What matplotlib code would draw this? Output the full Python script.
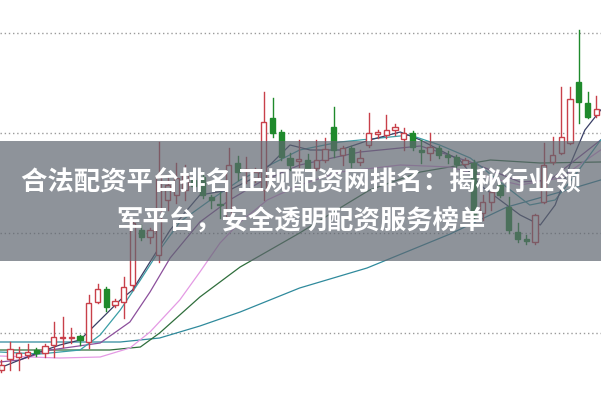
import numpy as np
import matplotlib
matplotlib.use("Agg")
import matplotlib.pyplot as plt
from matplotlib.patches import Rectangle

plt.rcParams['font.family'] = ['Noto Sans CJK SC', 'DejaVu Sans']

# candle data (open, high, low, close), one per trading day
opens = [63, 74, 76, 78, 83, 80, 88, 95, 95, 97, 91, 131, 144, 128, 131, 148, 203, 196, 178, 233,
         238, 243, 253, 256, 236, 229, 216, 270, 262, 255, 243, 315, 301, 275, 272, 273, 265, 273, 306, 278,
         285, 271, 288, 299, 298, 303, 294, 300, 283, 280, 285, 278, 276, 269, 270, 220, 231, 248, 226, 201,
         194, 191, 231, 271, 280, 290, 351, 330, 318]
highs = [73, 91, 86, 89, 85, 89, 111, 116, 105, 98, 138, 149, 146, 134, 156, 212, 208, 205, 291, 258,
         270, 268, 257, 261, 238, 241, 285, 277, 276, 265, 341, 335, 303, 280, 293, 279, 293, 295, 326, 287,
         287, 283, 320, 303, 318, 309, 305, 302, 293, 300, 287, 282, 278, 275, 273, 238, 250, 251, 236, 210,
         198, 219, 290, 296, 346, 346, 403, 341, 337]
lows = [61, 63, 63, 75, 77, 76, 76, 86, 90, 88, 85, 130, 122, 126, 115, 143, 193, 190, 171, 223,
        230, 233, 243, 235, 225, 215, 213, 253, 250, 251, 233, 296, 273, 263, 266, 263, 263, 271, 276, 268,
        266, 268, 286, 295, 295, 298, 283, 283, 270, 273, 275, 270, 266, 267, 215, 213, 223, 236, 200, 191,
        189, 189, 230, 269, 279, 289, 310, 315, 316]
closes = [68, 84, 80, 81, 80, 87, 96, 95.5, 95.5, 93, 130, 144, 126, 132, 146, 210, 196, 203, 258, 248,
          255, 258, 247, 238, 233, 228, 268, 261, 264, 261, 311, 300, 276, 268, 274, 265, 273, 284, 283, 285,
          271, 275, 300, 301, 303, 306, 300, 286, 281, 286, 278, 276, 269, 273, 216, 231, 241, 238, 203, 194,
          192, 218, 268, 278, 296, 334, 331, 316, 324]

# moving average lines (day index, value)
ma5_x = [-0.2, 2.1, 4.4, 6.7, 9.0, 11.3, 13.6, 15.0, 17.0, 19.3, 22.7, 26.1, 28.4, 30.7, 33.0, 35.3,
         38.7, 42.1, 45.6, 47.9, 50.1, 52.4, 54.7, 57.0, 59.3, 61.6, 63.3, 65.0, 66.7, 68.5]
ma5_y = [65, 73, 81, 88, 93, 113, 133, 143, 171, 203, 238, 243, 253, 268, 288, 283,
         283, 293, 301, 293, 283, 273, 248, 233, 218, 208, 228, 268, 303, 323]
ma10_x = [-0.2, 4.4, 9.0, 11.3, 13.6, 15.9, 18.1, 20.4, 23.9, 27.3, 30.7, 34.1, 38.7, 43.3, 46.7,
          50.1, 53.6, 57.0, 60.4, 63.3, 65.6, 68.5]
ma10_y = [81, 79, 83, 98, 123, 153, 183, 211, 233, 253, 268, 283, 291, 295, 298,
          288, 275, 251, 228, 233, 258, 293]
ma20_x = [-0.2, 2.1, 5.6, 11.3, 14.7, 17.0, 19.3, 22.7, 26.1, 29.6, 34.1, 41.0, 47.9, 53.6, 59.3, 62.7, 68.5]
ma20_y = [71, 73, 83, 90, 111, 141, 175, 211, 233, 251, 268, 281, 287, 271, 251, 253, 293]
ma30_x = [-0.2, 6.7, 11.3, 14.7, 17.0, 20.4, 22.7, 25.0, 27.3, 30.4, 34.1, 38.7, 45.6, 51.3, 55.9,
          59.3, 63.9, 68.5]
ma30_y = [77, 75, 76, 85, 101, 133, 161, 190, 211, 233, 248, 261, 268, 266, 255, 248, 255, 283]
ma60_x = [-0.2, 12.4, 15.9, 18.1, 22.7, 27.3, 34.1, 38.7, 42.1, 47.9, 55.9, 61.6, 68.5]
ma60_y = [83, 83, 86, 100, 136, 166, 200, 225, 243, 261, 273, 270, 271]
ma120_x = [-0.2, 6.7, 13.6, 18.1, 22.7, 27.3, 34.1, 41.8, 51.3, 57.8, 63.9, 68.5]
ma120_y = [91, 91, 91, 95, 107, 121, 145, 165, 199, 226, 241, 253]

grid_levels = [100, 200, 300, 400]

title_line1 = "合法配资平台排名 正规配资网排名：揭秘行业领"
title_line2 = "军平台，安全透明配资服务榜单"

up_color = '#c8404a'
down_color = '#1f8a2c'

fig = plt.figure(figsize=(6.01, 4.01), dpi=100)
ax = fig.add_axes([0, 0, 1, 1])
ax.set_xlim(-0.143, 68.54)
ax.set_ylim(32, 433)
ax.axis('off')

for g in grid_levels:
    ax.axhline(g, color='#9a9a9a', lw=1, ls=(0, (1, 2)), zorder=1)

ax.plot(ma120_x, ma120_y, color='#2f8a9c', lw=0.9, zorder=2)
ax.plot(ma60_x, ma60_y, color='#2f6e3c', lw=0.9, zorder=2)
ax.plot(ma30_x, ma30_y, color='#e49ae4', lw=0.9, zorder=2)
ax.plot(ma20_x, ma20_y, color='#8c4f9c', lw=0.9, zorder=2)
ax.plot(ma10_x, ma10_y, color='#3a9ea6', lw=0.9, zorder=2)
ax.plot(ma5_x, ma5_y, color='#3a3f66', lw=0.9, zorder=2)

w = 0.58
for i in range(len(opens)):
    o, h, l, c = opens[i], highs[i], lows[i], closes[i]
    col = up_color if c >= o else down_color
    top = max(o, c)
    bot = min(o, c)
    ax.plot([i, i], [top, h], color=col, lw=1, zorder=3)
    ax.plot([i, i], [l, bot], color=col, lw=1, zorder=3)
    height = max(top - bot, 0.8)
    if c >= o:
        ax.add_patch(Rectangle((i - w / 2, bot), w, height, facecolor='white',
                               edgecolor=col, lw=1, zorder=4))
    else:
        ax.add_patch(Rectangle((i - w / 2, bot), w, height, facecolor=col,
                               edgecolor=col, lw=1, zorder=4))

# grey banner with the headline
ax.add_patch(Rectangle((0, 140 / 401), 1, 120 / 401, transform=ax.transAxes,
                       facecolor='#5f6670', alpha=0.7, lw=0, zorder=5))
ax.text(0.5, 1 - 183 / 401, title_line1, transform=ax.transAxes, ha='center', va='center',
        fontsize=19, color='white', fontweight='bold', zorder=6)
ax.text(0.5, 1 - 222 / 401, title_line2, transform=ax.transAxes, ha='center', va='center',
        fontsize=19, color='white', fontweight='bold', zorder=6)

plt.savefig("out.png", dpi=100)
